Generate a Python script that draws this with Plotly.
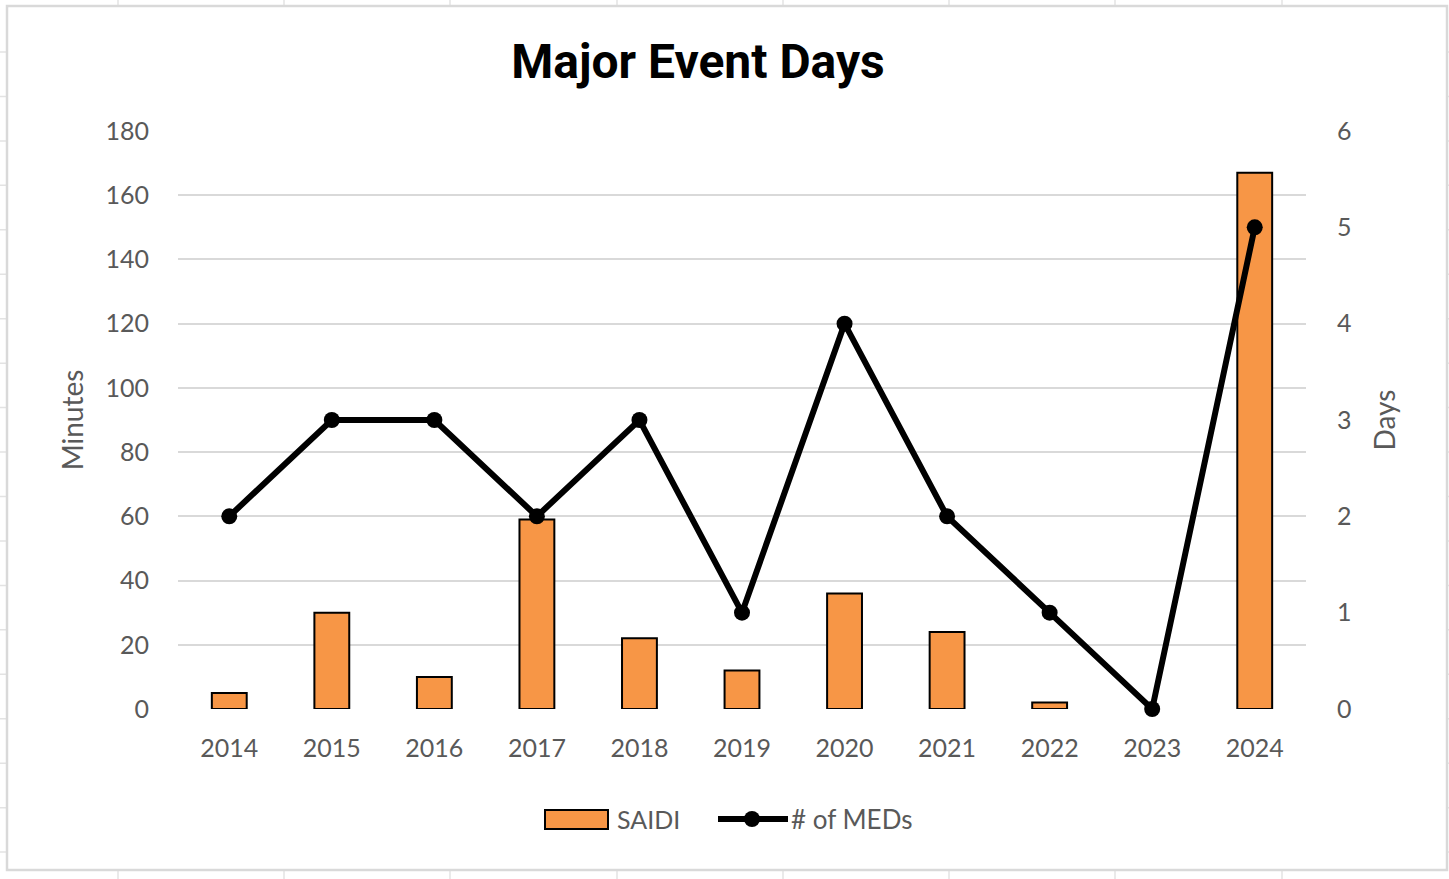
import plotly.graph_objects as go

# Annual data
years = ["2014", "2015", "2016", "2017", "2018", "2019", "2020", "2021", "2022", "2023", "2024"]
saidi_minutes = [5, 30, 10, 59, 22, 12, 36, 24, 2, 0, 167]
med_days = [2, 3, 3, 2, 3, 1, 4, 2, 1, 0, 5]

saidi_name = "SAIDI"
med_name = "# of MEDs"
title_text = "Major Event Days"
left_title = "Minutes"
right_title = "Days"

W, H = 1449, 879
ML, MR, MT, MB = 178, 143, 131, 170
PW = W - ML - MR
PH = H - MT - MB

ORANGE = "#F79646"
GRID = "#D9D9D9"
TEXT_GREY = "#595959"
TICK_FONT = dict(family="Lato, Carlito, sans-serif", size=25, color=TEXT_GREY)


def px(x):
    return (x - ML) / PW


def py(y):
    return (H - MB - y) / PH


fig = go.Figure()

# Empty years get no outline so no stray stroke sits on the baseline
bar_outline = [2 if v > 0 else 0 for v in saidi_minutes]

fig.add_trace(go.Bar(
    x=years, y=saidi_minutes, name=saidi_name,
    marker=dict(color=ORANGE, line=dict(color="#000000", width=bar_outline)),
    width=0.34, yaxis="y", showlegend=False,
))
fig.add_trace(go.Scatter(
    x=years, y=med_days, name=med_name, mode="lines+markers",
    line=dict(color="#000000", width=6),
    marker=dict(color="#000000", size=16),
    yaxis="y2", showlegend=False, cliponaxis=False,
))

shapes = []

# Spreadsheet cell grid behind the chart
for x in [118, 284, 450, 617, 783, 949, 1115, 1282]:
    shapes.append(dict(type="line", xref="paper", yref="paper",
                       x0=px(x), x1=px(x), y0=py(-5), y1=py(H + 5),
                       line=dict(color="#E3E3E3", width=1.5), layer="below"))
y = 52.0
while y < H:
    shapes.append(dict(type="line", xref="paper", yref="paper",
                       x0=px(-5), x1=px(W + 5), y0=py(y), y1=py(y),
                       line=dict(color="#E3E3E3", width=1.5), layer="below"))
    y += 44.45

# Chart area with border
shapes.append(dict(type="rect", xref="paper", yref="paper",
                   x0=px(7), x1=px(1447), y0=py(870), y1=py(6),
                   fillcolor="#FFFFFF", line=dict(color="#D9D9D9", width=2.5),
                   layer="below"))

# Legend: bar swatch
shapes.append(dict(type="rect", xref="paper", yref="paper",
                   x0=px(545), x1=px(608), y0=py(829), y1=py(810),
                   fillcolor=ORANGE, line=dict(color="#000000", width=2)))
# Legend: line swatch with marker
shapes.append(dict(type="line", xref="paper", yref="paper",
                   x0=px(718), x1=px(788), y0=py(819), y1=py(819),
                   line=dict(color="#000000", width=6)))
shapes.append(dict(type="circle", xref="paper", yref="paper",
                   x0=px(744), x1=px(760), y0=py(827), y1=py(811),
                   fillcolor="#000000", line=dict(color="#000000", width=0)))

annotations = [
    dict(text=saidi_name, xref="paper", yref="paper", x=px(615), y=py(819),
         xanchor="left", yanchor="middle", showarrow=False, font=TICK_FONT),
    dict(text=med_name, xref="paper", yref="paper", x=px(789), y=py(819),
         xanchor="left", yanchor="middle", showarrow=False,
         font=dict(TICK_FONT, size=26)),
]

fig.update_layout(
    width=W, height=H,
    margin=dict(l=ML, r=MR, t=MT, b=MB, pad=0),
    paper_bgcolor="#FFFFFF",
    plot_bgcolor="rgba(0,0,0,0)",
    title=dict(text=f"<b>{title_text}</b>", x=698 / W, xanchor="center",
               y=1 - 61 / H, yanchor="middle",
               font=dict(family="Roboto, sans-serif", size=48, color="#000000")),
    xaxis=dict(
        type="category", range=[-0.5, len(years) - 0.5],
        showgrid=False, zeroline=False, showline=False,
        ticks="", tickfont=TICK_FONT, ticklabelstandoff=22,
    ),
    yaxis=dict(
        range=[0, 180], dtick=20, showgrid=True, gridcolor=GRID, gridwidth=2,
        zeroline=False, showline=False, ticks="", tickfont=TICK_FONT,
        ticklabelstandoff=28,
        title=dict(text=left_title, font=dict(family="Lato, Carlito, sans-serif",
                                              size=28, color=TEXT_GREY), standoff=13),
    ),
    yaxis2=dict(
        range=[0, 6], dtick=1, overlaying="y", side="right", showgrid=False,
        zeroline=False, showline=False, ticks="", tickfont=TICK_FONT,
        ticklabelstandoff=30,
        title=dict(text=right_title, font=dict(family="Lato, Carlito, sans-serif",
                                               size=28, color=TEXT_GREY), standoff=24),
    ),
    shapes=shapes,
    annotations=annotations,
    showlegend=False,
)

fig.write_html("out.html")
